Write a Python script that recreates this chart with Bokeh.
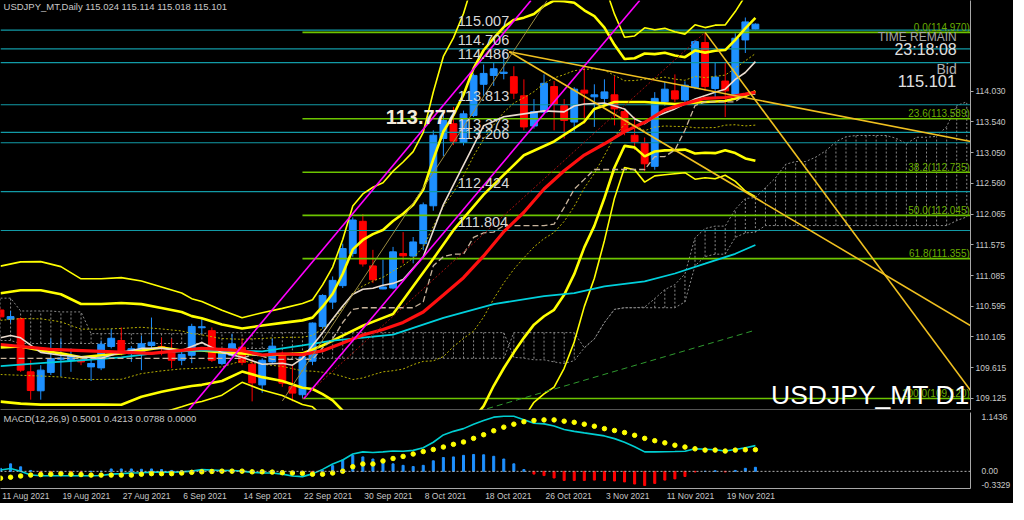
from bokeh.plotting import figure
from bokeh.layouts import column
from bokeh.models import Range1d, FixedTicker, Label, Span, ColumnDataSource
from bokeh.embed import file_html
from bokeh.resources import INLINE

# ---------------- data ----------------
tick_idx = [0, 6, 12, 18, 24, 30, 36, 42, 48, 54, 60, 66, 72]
tick_labels = ["11 Aug 2021", "19 Aug 2021", "27 Aug 2021", "6 Sep 2021", "14 Sep 2021",
               "22 Sep 2021", "30 Sep 2021", "8 Oct 2021", "18 Oct 2021", "26 Oct 2021",
               "3 Nov 2021", "11 Nov 2021", "19 Nov 2021"]

opens = [110.534, 110.387, 110.397, 109.546, 109.243, 109.537, 109.747, 109.731, 109.731, 109.625,
         109.609, 109.951, 110.046, 109.836, 109.862, 109.967, 109.951, 109.862, 109.731, 109.810,
         110.250, 110.203, 109.679, 109.810, 109.940, 109.668, 109.337, 109.704, 109.810, 109.310,
         109.180, 109.715, 110.271, 110.660, 110.923, 111.436, 111.951, 111.238, 110.870, 110.885,
         111.436, 111.396, 111.594, 112.199, 113.274, 113.511, 113.211, 113.641, 114.140, 114.282,
         114.314, 114.262, 113.956, 113.474, 113.695, 114.104, 113.799, 113.537, 114.046, 113.940,
         113.915, 113.972, 113.704, 113.326, 113.196, 112.829, 113.862, 114.035, 113.888, 114.088,
         114.807, 114.073, 114.192, 113.956, 114.849, 115.024]
highs = [110.566, 110.518, 110.413, 109.731, 109.652, 110.077, 110.072, 109.920, 109.778, 109.810,
         110.046, 110.235, 110.255, 109.956, 110.125, 110.413, 110.093, 110.077, 109.888, 110.314,
         110.392, 110.255, 109.920, 110.156, 110.077, 109.762, 109.762, 110.077, 109.872, 109.652,
         109.841, 110.335, 110.786, 111.070, 111.594, 112.014, 112.066, 111.495, 111.337, 111.542,
         111.778, 111.700, 112.251, 113.405, 113.700, 113.778, 113.720, 114.314, 114.456, 114.482,
         114.692, 114.429, 114.219, 113.904, 114.298, 114.193, 113.904, 114.093, 114.456, 114.140,
         114.219, 114.271, 113.747, 113.621, 113.290, 114.015, 114.177, 114.298, 114.188, 114.849,
         114.970, 114.482, 114.482, 114.955, 115.207, 115.114]
lows = [110.377, 110.329, 109.546, 109.101, 109.101, 109.495, 109.468, 109.546, 109.652, 109.400,
        109.573, 109.920, 109.810, 109.704, 109.573, 109.915, 109.810, 109.605, 109.652, 109.684,
        110.156, 109.704, 109.652, 109.783, 109.652, 109.074, 109.211, 109.684, 109.306, 109.074,
        109.117, 109.652, 110.235, 110.550, 110.885, 111.384, 111.227, 110.964, 110.865, 110.865,
        111.279, 111.279, 111.490, 112.120, 112.991, 113.169, 113.164, 113.616, 113.956, 114.114,
        114.219, 113.904, 113.405, 113.432, 113.668, 113.405, 113.274, 113.385, 113.511, 113.459,
        113.799, 113.484, 113.326, 113.090, 112.750, 112.775, 113.799, 113.852, 113.810, 114.062,
        114.035, 113.904, 113.616, 113.904, 114.640, 115.018]
closes = [110.424, 110.428, 109.573, 109.247, 109.573, 109.758, 109.767, 109.794, 109.704, 109.679,
          109.987, 110.082, 109.852, 109.915, 109.994, 110.019, 109.928, 109.731, 109.825, 110.271,
          110.266, 109.731, 109.888, 109.994, 109.694, 109.369, 109.731, 109.956, 109.364, 109.206,
          109.783, 110.325, 110.766, 111.007, 111.515, 111.972, 111.269, 111.017, 110.901, 111.463,
          111.400, 111.621, 112.214, 113.326, 113.563, 113.232, 113.668, 114.282, 114.314, 114.388,
          114.334, 113.999, 113.459, 113.704, 114.156, 113.825, 113.563, 114.062, 113.999, 113.972,
          114.019, 113.747, 113.380, 113.222, 112.870, 113.915, 114.062, 113.904, 114.125, 114.822,
          114.104, 114.255, 114.035, 114.876, 115.137, 115.101]

# Bollinger band centre and width (one sigma)
bb_i = [0, 2, 4, 6, 8, 10, 12, 14, 16, 18, 19, 20, 22, 24, 26, 28, 30] + list(range(31, 76))
bb_mid = [109.936, 109.944, 109.936, 109.904, 109.826, 109.826, 109.833, 109.888, 109.896, 109.896,
          109.878, 109.870, 109.851, 109.894, 109.873, 109.864, 109.830,
          109.842, 109.888, 109.942, 110.019, 110.116, 110.183, 110.248, 110.301, 110.361, 110.418,
          110.512, 110.628, 110.795, 110.988, 111.182, 111.378, 111.595, 111.842, 112.101, 112.329,
          112.513, 112.647, 112.782, 112.914, 113.007, 113.122, 113.274, 113.429, 113.554, 113.685,
          113.791, 113.850, 113.844, 113.810, 113.844, 113.864, 113.845, 113.835, 113.857, 113.846,
          113.858, 113.887, 113.946, 113.995, 114.059]
bb_sd = [0.433, 0.453, 0.457, 0.441, 0.402, 0.402, 0.406, 0.370, 0.335, 0.303,
         0.279, 0.266, 0.226, 0.172, 0.206, 0.232, 0.269,
         0.285, 0.349, 0.426, 0.547, 0.693, 0.735, 0.749, 0.755, 0.797, 0.827,
         0.851, 0.915, 1.074, 1.199, 1.233, 1.298, 1.400, 1.421, 1.389, 1.363,
         1.328, 1.279, 1.241, 1.240, 1.235, 1.173, 1.084, 0.947, 0.838, 0.681,
         0.490, 0.347, 0.356, 0.411, 0.389, 0.390, 0.378, 0.369, 0.411, 0.400,
         0.409, 0.400, 0.452, 0.520, 0.571]

# thick yellow moving average
yma_i = [0, 2, 4, 6, 8, 10, 12, 14, 16, 18, 20, 22, 24, 26, 28, 30, 32, 34, 36, 38, 39, 41, 43, 45, 48, 50, 52, 55, 58, 59, 61, 64, 67, 70, 72, 74, 75]
yma_v = [109.936, 109.952, 109.888, 109.841, 109.778, 109.810, 109.841, 109.888, 109.936, 109.888,
         109.888, 109.857, 109.841, 109.810, 109.825, 109.841, 109.967, 110.125, 110.282, 110.408,
         110.471, 110.912, 111.353, 111.810, 112.377, 112.692, 113.007, 113.227, 113.542, 113.747,
         113.857, 113.857, 113.825, 113.857, 113.873, 113.951, 114.030]
# red moving average
red_i = [0, 5, 10, 15, 20, 24, 26, 28, 30, 32, 34, 36, 38, 40, 42, 44, 46, 48, 50, 52, 54, 56, 58, 60, 62, 64, 66, 68, 70, 72, 74, 75]
red_v = [109.983, 109.904, 109.873, 109.841, 109.920, 109.885, 109.815, 109.835, 109.821, 109.882,
         110.008, 110.135, 110.221, 110.335, 110.502, 110.774, 111.050, 111.398, 111.785, 112.096,
         112.467, 112.758, 113.010, 113.190, 113.384, 113.533, 113.731, 113.831, 113.916, 113.929,
         113.982, 114.013]
# white moving average
wht_i = [0, 1, 2, 4, 6, 10, 12, 14, 16, 18, 20, 22, 24, 26, 28, 29, 30, 31, 32, 33, 34, 35, 36, 37, 38, 39, 40, 42, 44, 45, 46, 47, 48, 50, 52, 54, 56, 57, 58, 60, 62, 63, 64, 65, 67, 69, 71, 72, 73, 74, 75]
wht_v = [110.089, 110.125, 110.089, 109.857, 109.810, 109.762, 109.857, 109.920, 109.920, 109.888,
         110.014, 109.857, 109.778, 109.668, 109.684, 109.652, 109.762, 109.967, 110.172, 110.392,
         110.597, 110.786, 110.865, 110.881, 110.928, 110.959, 111.022, 111.384, 112.219, 112.534,
         112.849, 113.164, 113.479, 113.621, 113.668, 113.715, 113.699, 113.794, 113.825, 113.841,
         113.747, 113.589, 113.511, 113.621, 113.747, 113.904, 114.014, 114.062, 114.219, 114.329, 114.503]
# cyan moving average
cyn_i = [0, 4, 8, 12, 16, 20, 26, 30, 33, 36, 39, 44, 49, 54, 57, 60, 64, 67, 70, 73, 75]
cyn_v = [109.636, 109.684, 109.731, 109.778, 109.857, 109.888, 109.873, 109.967, 110.046, 110.093,
         110.140, 110.408, 110.629, 110.755, 110.802, 110.912, 110.991, 111.117, 111.274, 111.432, 111.573]
# Ichimoku base line (one value per bar)
kijun = ([109.762] * 25 + [109.820, 109.796] + [109.744] * 5 + [109.930, 110.072, 110.334, 110.544] +
         [110.570] * 6 + [110.663, 111.240, 111.387, 111.426, 111.426, 111.694, 111.765, 111.778] +
         [111.883] * 5 + [111.905, 112.172, 112.464, 112.621] + [112.779] * 6 +
         [112.986, 112.986, 113.091, 113.406, 113.800] + [113.860] * 4 + [113.979] * 2)
# Ichimoku cloud, one value per bar (0..96)
span_a = ([110.723] * 2 + [110.518] * 4 + [110.503] * 3 + [110.156] * 12 + [110.172] * 7 + [110.172] * 23 +
          [109.777, 109.765, 109.738, 109.738, 109.704, 109.679, 109.724, 109.930, 110.072, 110.334,
           110.544, 110.570, 110.570, 110.581, 110.715, 110.860, 110.939, 111.110, 111.687, 111.835,
           111.874, 111.874, 112.142, 112.316, 112.329, 112.487, 112.645, 112.862, 112.906, 112.906,
           112.977, 113.078, 113.223, 113.302, 113.322, 113.322, 113.322, 113.322, 113.276, 113.191,
           113.294, 113.294, 113.308, 113.465, 113.800, 113.860])
span_b = ([110.046] * 2 + [109.999] * 19 + [109.920] * 7 + [109.762] * 23 +
          [110.172] * 7 +
          [109.930, 110.072, 110.334, 110.544, 110.570, 110.570, 110.570, 110.570, 110.570, 110.570,
           110.663, 111.240, 111.387, 111.426, 111.426, 111.694, 111.765, 111.778, 111.883] +
          [111.883] * 18 + [111.962, 112.022])

# horizontal levels
cyan_levels = [115.007, 114.706, 114.486, 113.813, 113.373, 113.206, 112.424, 111.804]
fib_levels = [114.970, 113.589, 112.735, 112.045, 111.355, 109.120]
fib_names = ["0.0", "23.6", "38.2", "50.0", "61.8", "100.0"]
fib_start = 30
price_ticks = [114.030, 113.540, 113.050, 112.560, 112.065, 111.575, 111.085, 110.595, 110.105, 109.615, 109.125]

# trend lines: (idx0, price0, idx1, price1)
magenta_lines = [(18.65, 108.928, 52.7, 115.479), (30.13, 109.117, 63.5, 115.479)]
gold_lines = [(50.54, 114.660, 96.4, 113.227), (50.54, 114.660, 96.4, 110.282), (70.0, 114.970, 96.4, 109.243)]
fib_trend = (30, 109.117, 70, 114.970)
green_dash = (47.4, 108.912, 74.8, 110.203)
olive_line = (28.0, 109.08, 54.3, 115.479)

# MACD
macd = [0.026, 0.056, 0.004, -0.072, -0.084, -0.084, -0.084, -0.084, -0.084, -0.084,
        -0.079, -0.054, -0.044, -0.032, -0.026, -0.014, -0.014, -0.014, -0.009, 0.004,
        0.033, 0.026, 0.016, 0.016, 0.004, -0.019, -0.032, -0.032, -0.054, -0.090,
        -0.102, -0.049, 0.039, 0.144, 0.220, 0.337, 0.378, 0.367, 0.378, 0.395,
        0.390, 0.408, 0.460, 0.566, 0.707, 0.777, 0.830, 0.917, 0.988, 1.053,
        1.070, 1.070, 1.005, 0.935, 0.923, 0.882, 0.812, 0.777, 0.747, 0.719,
        0.689, 0.636, 0.566, 0.478, 0.378, 0.378, 0.381, 0.385, 0.390, 0.438,
        0.431, 0.420, 0.395, 0.425, 0.460, 0.5001]
signal = [-0.132, -0.114, -0.090, -0.072, -0.062, -0.054, -0.044, -0.054, -0.062, -0.072,
          -0.072, -0.072, -0.072, -0.072, -0.054, -0.044, -0.044, -0.044, -0.032, -0.019,
          -0.009, -0.002, 0.004, 0.004, 0.004, -0.009, -0.009, -0.014, -0.026, -0.032,
          -0.037, -0.054, -0.054, -0.032, 0.004, 0.091, 0.144, 0.144, 0.202, 0.250,
          0.290, 0.337, 0.385, 0.425, 0.473, 0.525, 0.571, 0.641, 0.712, 0.789,
          0.859, 0.917, 0.965, 0.988, 1.000, 1.000, 0.975, 0.953, 0.917, 0.877,
          0.830, 0.794, 0.754, 0.701, 0.641, 0.596, 0.554, 0.508, 0.473, 0.438,
          0.413, 0.413, 0.395, 0.413, 0.420, 0.4213]
hist = [0.059, 0.146, 0.088, 0.018, -0.018, -0.015, -0.010, -0.010, -0.010, 0.0,
        0.0, 0.047, 0.047, 0.047, 0.041, 0.047, 0.035, 0.018, 0.012, 0.018,
        0.030, 0.024, 0.012, 0.012, 0.006, -0.030, -0.030, -0.030, -0.035, -0.041,
        -0.035, -0.012, 0.018, 0.111, 0.223, 0.311, 0.281, 0.240, 0.223, 0.146,
        0.117, 0.094, 0.117, 0.205, 0.269, 0.281, 0.311, 0.328, 0.322, 0.293,
        0.240, 0.146, 0.035, -0.053, -0.082, -0.129, -0.176, -0.176, -0.176, -0.170,
        -0.176, -0.187, -0.205, -0.246, -0.275, -0.234, -0.170, -0.146, -0.100, -0.012,
        0.0, 0.012, -0.012, 0.018, 0.059, 0.0788]

# ---------------- styling ----------------
BULL = "#1e90ff"
BEAR = "#ff0000"
AXIS_COL = "#a8a8a8"
TXT = "#c8c8c8"
FONT = "Liberation Sans"
FW = 970
X_END = 96.37
PX_PER_IDX = FW / X_END

p = figure(frame_width=FW, frame_height=410, x_range=Range1d(0, X_END),
           y_range=Range1d(108.928, 115.479), output_backend="svg", toolbar_location=None,
           background_fill_color="black", border_fill_color="black", y_axis_location="right",
           min_border_left=0, min_border_top=0, min_border_bottom=0, min_border_right=30)
p.xgrid.visible = False
p.ygrid.visible = False
p.outline_line_color = None
p.xaxis.ticker = FixedTicker(ticks=[])
p.xaxis.major_tick_out = 0
p.xaxis.minor_tick_out = 0
p.xaxis.axis_line_color = AXIS_COL
p.xaxis.axis_line_width = 2
p.yaxis.ticker = FixedTicker(ticks=price_ticks)
p.yaxis.major_label_overrides = {t: "%.3f" % t for t in price_ticks}
p.yaxis.major_label_text_color = TXT
p.yaxis.major_label_text_font = FONT
p.yaxis.major_label_text_font_size = "8.5px"
p.yaxis.axis_line_color = AXIS_COL
p.yaxis.major_tick_line_color = AXIS_COL
p.yaxis.major_tick_out = 3
p.yaxis.major_tick_in = 0
p.yaxis.minor_tick_out = 0
p.yaxis.minor_tick_in = 0
p.yaxis.major_label_standoff = 2

# Ichimoku cloud hatch
cidx = list(range(len(span_a)))
p.segment(x0=cidx, y0=span_b, x1=cidx, y1=span_a, line_color="#8a8a8a", line_width=1, line_dash="2 2")
p.line(cidx, span_a, line_color="#8a8a8a", line_width=1, line_dash="2 2")
p.line(cidx, span_b, line_color="#8a8a8a", line_width=1, line_dash="2 2")

# candles
n = len(opens)
xs = list(range(n))
cols = [BULL if c >= o else BEAR for o, c in zip(opens, closes)]
src = ColumnDataSource(dict(x=xs, o=opens, h=highs, l=lows, c=closes, col=cols,
                            top=[max(o, c) for o, c in zip(opens, closes)],
                            bot=[min(o, c) for o, c in zip(opens, closes)]))
p.segment(x0="x", y0="l", x1="x", y1="h", line_color="col", line_width=1, source=src)
p.vbar(x="x", top="top", bottom="bot", width=0.68, fill_color="col", line_color="col", source=src)

# horizontal levels
for lv in cyan_levels:
    p.segment(x0=[0], y0=[lv], x1=[X_END], y1=[lv], line_color="#129aa6", line_width=1.2)
for lv in fib_levels:
    p.segment(x0=[fib_start], y0=[lv], x1=[X_END], y1=[lv], line_color="#6cc400", line_width=1.6)

# Bollinger bands
for k, w, dash, col in [(3, 1.6, "solid", "#ffff00"), (2, 2.6, "solid", "#ffff00"), (1, 1, "2 2", "#b8b000"),
                        (-1, 1, "2 2", "#b8b000"), (-2, 2.6, "solid", "#ffff00"), (-3, 1.6, "solid", "#ffff00")]:
    band = [m_ + k * s_ for m_, s_ in zip(bb_mid, bb_sd)]
    p.line(bb_i, band, line_color=col, line_width=w, line_dash=dash)

p.line(yma_i, yma_v, line_color="#ffff00", line_width=2.6)
p.line(cyn_i, cyn_v, line_color="#00d0dc", line_width=1.8)
p.line(list(range(len(kijun))), kijun, line_color="#c8b49c", line_width=1.3, line_dash="6 3")
p.line(wht_i, wht_v, line_color="#eadccf", line_width=1.6)
p.line(red_i, red_v, line_color="#ff1010", line_width=3.2)

# trend lines
for a in magenta_lines:
    p.line([a[0], a[2]], [a[1], a[3]], line_color="#ff00ff", line_width=1.6)
for a in gold_lines:
    p.line([a[0], a[2]], [a[1], a[3]], line_color="#f0c020", line_width=1.6)
p.line([fib_trend[0], fib_trend[2]], [fib_trend[1], fib_trend[3]], line_color="#a01010", line_width=1, line_dash="2 2")
p.line([green_dash[0], green_dash[2]], [green_dash[1], green_dash[3]], line_color="#2f9a2f", line_width=1, line_dash="6 4")
p.line([olive_line[0], olive_line[2]], [olive_line[1], olive_line[3]], line_color="#9a8a40", line_width=1)


def lab(fig, x, y, text, size, color, align="left", style="normal", bg=None):
    kw = dict(x=x, y=y, text=text, text_font=FONT, text_font_size=size, text_color=color,
              text_align=align, text_baseline="middle", text_font_style=style)
    if bg is not None:
        kw["background_fill_color"] = bg
    fig.add_layout(Label(**kw))


for lv in cyan_levels:
    lab(p, 45.44, lv + 0.14, "%.3f" % lv, "14.5px", "#d8d8d8")
lab(p, 38.27, 113.62, "113.777", "20px", "#f4ecdc", style="bold")
for nm, lv in zip(fib_names, fib_levels):
    lab(p, 96.3, lv + 0.08, "%s(%.3f)" % (nm, lv), "10px", "#6aae00", align="right")
lab(p, 95.0, 114.90, "TIME REMAIN", "12px", "#a8a8a8", align="right")
lab(p, 95.0, 114.70, "23:18:08", "16px", "#e0e0e0", align="right")
lab(p, 95.0, 114.39, "Bid", "14px", "#b0b0b0", align="right")
lab(p, 94.95, 114.19, "115.101", "16.5px", "#e0e0e0", align="right")
lab(p, 76.55, 109.18, "USDJPY_MT D1", "26.5px", "#ffffff")
lab(p, 0.3, 115.385, "USDJPY_MT,Daily  115.024 115.114 115.018 115.101", "9.5px", TXT)

# axis boxes
box_x = X_END + 3 / PX_PER_IDX
for lv in cyan_levels:
    lab(p, box_x, lv, "%.3f" % lv, "8.5px", "#000000", bg="#00ffff")
lab(p, box_x, 115.101, "115.101", "8.5px", "#000000", bg="#ffffff")

# ---------------- MACD pane ----------------
m = figure(frame_width=FW, frame_height=76, x_range=p.x_range, y_range=Range1d(-0.3329, 1.1436),
           output_backend="svg", toolbar_location=None, background_fill_color="black",
           border_fill_color="black", y_axis_location="right",
           min_border_left=0, min_border_top=2, min_border_bottom=0, min_border_right=30)
m.xgrid.visible = False
m.ygrid.visible = False
m.outline_line_color = None

# date labels: left edge of each label at its bar (MT4 style)
CW = {" ": 0.278, "A": 0.667, "u": 0.556, "g": 0.556, "S": 0.667, "e": 0.556, "p": 0.556,
      "O": 0.778, "c": 0.5, "t": 0.278, "N": 0.722, "o": 0.556, "v": 0.5}
DFS = 8.5
lab_pos = []
for t, s in zip(tick_idx, tick_labels):
    w = sum(CW.get(ch, 0.556) for ch in s) * DFS
    lab_pos.append(round(t + 0.15 + w / 2 / PX_PER_IDX, 3))
m.xaxis.ticker = FixedTicker(ticks=lab_pos)
m.xaxis.major_label_overrides = {t: s for t, s in zip(lab_pos, tick_labels)}
m.xaxis.major_label_text_color = TXT
m.xaxis.major_label_text_font = FONT
m.xaxis.major_label_text_font_size = "%gpx" % DFS
m.xaxis.major_label_standoff = 2
m.xaxis.axis_line_color = AXIS_COL
m.xaxis.axis_line_width = 1
m.xaxis.major_tick_out = 0
m.xaxis.major_tick_in = 0
m.xaxis.minor_tick_out = 0
m.xaxis.minor_tick_in = 0
m.yaxis.ticker = FixedTicker(ticks=[1.0465, 0.0, -0.2746])
m.yaxis.major_label_overrides = {1.0465: "1.1436", 0.0: "0.00", -0.2746: "-0.3329"}
m.yaxis.major_label_text_color = TXT
m.yaxis.major_label_text_font = FONT
m.yaxis.major_label_text_font_size = "8.5px"
m.yaxis.axis_line_color = AXIS_COL
m.yaxis.major_tick_line_color = None
m.yaxis.minor_tick_line_color = None
m.yaxis.major_label_standoff = 5

m.add_layout(Span(location=0, dimension="width", line_color="#b0b0b0", line_dash="2 2", line_width=1))
hcol = [BULL if v >= 0 else BEAR for v in hist]
m.vbar(x=xs, top=hist, bottom=0, width=0.2, fill_color=hcol, line_color=hcol)
m.line(xs, macd, line_color="#00ced1", line_width=1.6)
m.scatter(xs, signal, size=4.5, fill_color="#ffff00", line_color="#ffff00")
lab(m, 0.3, 1.02, "MACD(12,26,9) 0.5001 0.4213 0.0788 0.0000", "9.5px", TXT)

layout = column(p, m, spacing=0, styles={"background-color": "black"})
open("out.html", "w").write(file_html(layout, INLINE))
